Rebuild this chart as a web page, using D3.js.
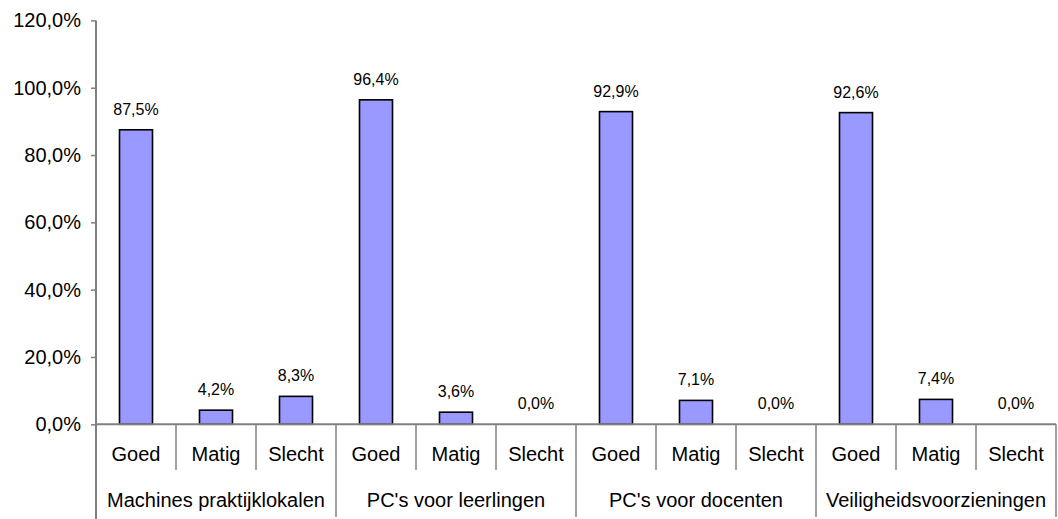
<!DOCTYPE html>
<html><head><meta charset="utf-8">
<script src="https://cdn.jsdelivr.net/npm/d3@7"></script>
<style>body{margin:0;background:#fff}svg{display:block}text{font-family:Arial,"Liberation Sans",sans-serif;fill:#000}</style>
</head><body><svg id="c" width="1058" height="519"></svg>
<script>
const groups = ["Machines praktijklokalen","PC's voor leerlingen","PC's voor docenten","Veiligheidsvoorzieningen"];
const levels = ["Goed","Matig","Slecht"];
const values = [87.5,4.2,8.3, 96.4,3.6,0.0, 92.9,7.1,0.0, 92.6,7.4,0.0];
const yTicks = [0,20,40,60,80,100,120];

(function(){
const svg = d3.select("#c");
const pL = 96, pR = 1056, pT = 20.4, pB = 424.3;
const keys = [];
groups.forEach((g,gi)=>levels.forEach((l,li)=>keys.push(gi+"|"+li)));
const x = d3.scaleBand().domain(keys).range([pL,pR]).paddingInner(0).paddingOuter(0);
const y = d3.scaleLinear().domain([0,120]).range([pB,pT]);
const fmt = v => d3.format(".1f")(v).replace(".",",")+"%";

// y axis
const yAxis = d3.axisLeft(y).tickValues(yTicks).tickSize(5).tickPadding(10).tickFormat(fmt);
const ya = svg.append("g").attr("transform",`translate(${pL},0)`).call(yAxis);
ya.select(".domain").remove();
ya.selectAll(".tick line").attr("stroke","#808080").attr("stroke-width",1.5);
ya.selectAll(".tick text").attr("font-size",20).attr("font-family","Arial, Liberation Sans, sans-serif").attr("fill","#000");

// bars
const bw = 33;
svg.append("g").selectAll("rect").data(values).join("rect")
  .attr("x",(d,i)=>x(keys[i])+x.bandwidth()/2-bw/2)
  .attr("width",bw)
  .attr("y",d=>y(d))
  .attr("height",d=>pB-y(d))
  .attr("fill","#9999FF").attr("stroke","#000").attr("stroke-width",1.6);

// value labels
svg.append("g").selectAll("text").data(values).join("text")
  .attr("x",(d,i)=>x(keys[i])+x.bandwidth()/2)
  .attr("y",d=>y(d)-15)
  .attr("text-anchor","middle").attr("font-size",16)
  .text(d=>fmt(d));

// axes lines
const ax = svg.append("g").attr("stroke","#808080").attr("stroke-width",2);
ax.append("line").attr("x1",pL).attr("x2",pL).attr("y1",pT).attr("y2",519);
ax.append("line").attr("x1",pL).attr("x2",pR).attr("y1",pB).attr("y2",pB);
keys.forEach((k,i)=>{
  if(i===0) return;
  const xx = x(k);
  const isGroup = i%3===0;
  ax.append("line").attr("x1",xx).attr("x2",xx).attr("y1",pB).attr("y2",isGroup?517:470).attr("stroke-width",1.5);
});
ax.append("line").attr("x1",pR).attr("x2",pR).attr("y1",pB).attr("y2",517).attr("stroke-width",1.5);

// level labels
svg.append("g").selectAll("text").data(keys).join("text")
  .attr("x",k=>x(k)+x.bandwidth()/2).attr("y",461)
  .attr("text-anchor","middle").attr("font-size",20)
  .text(k=>levels[+k.split("|")[1]]);
// group labels
svg.append("g").selectAll("text").data(groups).join("text")
  .attr("x",(g,gi)=>x(gi+"|1")+x.bandwidth()/2).attr("y",507)
  .attr("text-anchor","middle").attr("font-size",20)
  .text(g=>g);
})();
</script></body></html>
